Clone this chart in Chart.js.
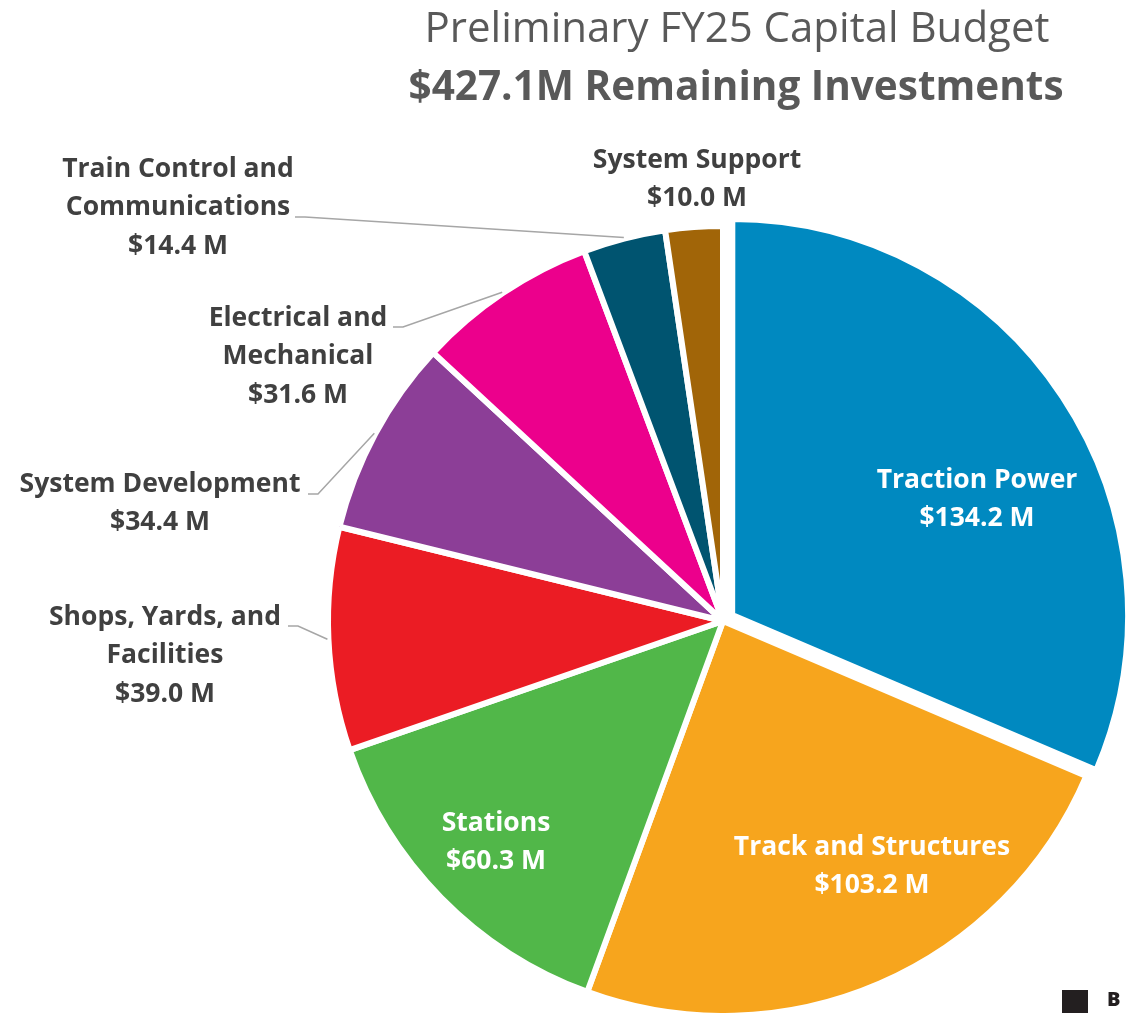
<!DOCTYPE html>
<html>
<head>
<meta charset="utf-8">
<script src="https://cdn.jsdelivr.net/npm/chart.js@4"></script>
<style>
  html, body { margin: 0; padding: 0; background: #fff; }
</style>
</head>
<body>
<canvas id="myChart" width="1132" height="1013"></canvas>
<script>
// data
var categories = ['Traction Power', 'Track and Structures', 'Stations', 'Shops, Yards, and Facilities',
  'System Development', 'Electrical and Mechanical', 'Train Control and Communications', 'System Support'];
var values = [134.2, 103.2, 60.3, 39.0, 34.4, 31.6, 14.4, 10.0];
var labelLines = [
  ['Traction Power'],
  ['Track and Structures'],
  ['Stations'],
  ['Shops, Yards, and', 'Facilities'],
  ['System Development'],
  ['Electrical and', 'Mechanical'],
  ['Train Control and', 'Communications'],
  ['System Support']
];
var colors = ['#0089C0', '#F7A51D', '#51B749', '#EB1C24', '#8C3E97', '#EC008C', '#005470', '#A16508'];

// where the label text sits (first line centre) and where its leader line starts
var labelPos = [
  { x: 977, y: 480, inside: true },
  { x: 872, y: 847, inside: true },
  { x: 496, y: 823, inside: true },
  { x: 165, y: 617, lead: [288, 626] },
  { x: 160, y: 484, lead: [308, 494] },
  { x: 298, y: 318, lead: [393, 327] },
  { x: 178, y: 169, lead: [295, 217] },
  { x: 697, y: 160 }
];

var labelsPlugin = {
  id: 'pieLabels',
  afterDraw: function (chart) {
    var ctx = chart.ctx;
    var meta = chart.getDatasetMeta(0);
    ctx.save();

    // title
    ctx.textAlign = 'center';
    ctx.textBaseline = 'alphabetic';
    ctx.fillStyle = '#595959';
    ctx.font = '400 42px "Open Sans"';
    ctx.fillText('Preliminary FY25 Capital Budget', 737, 42);
    ctx.font = '700 40.5px "Open Sans"';
    ctx.fillText('$427.1M Remaining Investments', 736, 100);

    // leader lines
    ctx.strokeStyle = '#A6A6A6';
    ctx.lineWidth = 1.5;
    meta.data.forEach(function (el, i) {
      var p = labelPos[i];
      if (!p.lead) return;
      var a = (el.startAngle + el.endAngle) / 2;
      var ex = el.x + Math.cos(a) * (el.outerRadius + 1);
      var ey = el.y + Math.sin(a) * (el.outerRadius + 1);
      ctx.beginPath();
      ctx.moveTo(p.lead[0], p.lead[1]);
      ctx.lineTo(p.lead[0] + 10, p.lead[1]);
      ctx.lineTo(ex, ey);
      ctx.stroke();
    });

    // slice labels
    ctx.font = '700 26.5px "Open Sans"';
    ctx.textBaseline = 'middle';
    labelLines.forEach(function (lines, i) {
      var p = labelPos[i];
      var all = lines.concat(['$' + values[i].toFixed(1) + ' M']);
      ctx.fillStyle = p.inside ? '#FFFFFF' : '#404040';
      all.forEach(function (t, k) {
        ctx.fillText(t, p.x, p.y + k * 38.5);
      });
    });

    // small logo, bottom right
    ctx.fillStyle = '#231F20';
    ctx.fillRect(1062, 990, 26, 23);
    ctx.font = '900 20px "Open Sans"';
    ctx.textAlign = 'left';
    ctx.textBaseline = 'alphabetic';
    ctx.fillText('B', 1107, 1006);
    ctx.restore();
  }
};

var ctx = document.getElementById('myChart').getContext('2d');
var chart = new Chart(ctx, {
  type: 'pie',
  data: {
    labels: categories,
    datasets: [{
      data: values,
      backgroundColor: colors,
      borderColor: '#FFFFFF',
      borderWidth: 6,
      offset: [44, 0, 0, 0, 0, 0, 0, 0],
      radius: 395,
      clip: false
    }]
  },
  options: {
    responsive: false,
    animation: false,
    events: [],
    layout: {
      padding: { left: 314, right: 0, top: 229, bottom: 0 }
    },
    plugins: {
      legend: { display: false },
      tooltip: { enabled: false }
    }
  },
  plugins: [labelsPlugin]
});
</script>
</body>
</html>
